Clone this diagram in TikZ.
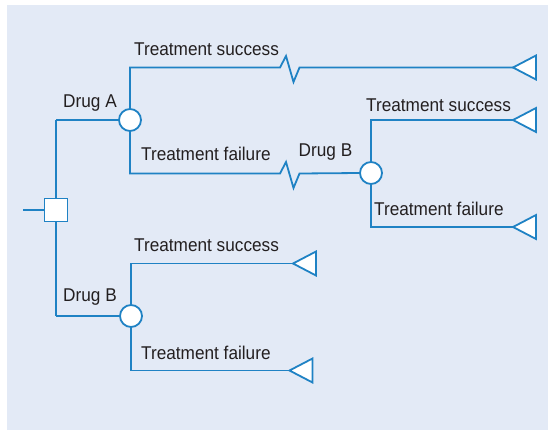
\documentclass[tikz,border=0pt]{standalone}
\usepackage{fontspec}
\setmainfont{Liberation Sans}[FakeStretch=0.93]
\definecolor{panel}{HTML}{E3EAF6}
\definecolor{tree}{HTML}{1F82C4}
\definecolor{ink}{HTML}{231F20}
\tikzset{
  branch/.style={draw=tree, line width=1.8pt},
  chance/.style={circle, draw=tree, fill=white, line width=1.8pt, minimum size=22pt, inner sep=0pt},
  decision/.style={rectangle, draw=tree, fill=white, line width=1.8pt, minimum size=23pt, inner sep=0pt},
  outcome/.style={draw=tree, fill=white, line width=1.8pt, line join=miter},
  lbl/.style={text=ink, font=\fontsize{18.5}{21}\selectfont, inner sep=0pt}
}
% draws a terminal triangle whose tip sits at the given coordinate
\newcommand{\terminal}[1]{\draw[outcome] (#1) -- ++(23,-12) -- ++(0,24) -- cycle;}
\begin{document}
\begin{tikzpicture}[x=1pt,y=-1pt]
\useasboundingbox (0,0) rectangle (548,431);
\fill[panel] (7,5) rectangle (548,430);

% decision node and its trunk
\coordinate (stub) at (23,210);
\coordinate (topA) at (56,120);
\coordinate (botB) at (56,316);
\draw[branch] (topA) -- (botB);
\draw[branch] (stub) -- (56,210);
\node[decision] (dec) at (56,210) {};

% chance nodes
\node[chance] (cA) at (130,120) {};
\node[chance] (cB2) at (371,173) {};
\node[chance] (cB) at (131,316) {};

\draw[branch] (topA) -- (cA);
\draw[branch] (botB) -- (cB);

% Drug A: success branch with a break mark
\coordinate (aS) at (130,67.5);
\coordinate (aSend) at (513,67.5);
\draw[branch] (cA.north) -- (aS) -- (280,67.5) -- (286,56) -- (293.5,82) -- (299.5,67.5) -- (aSend);
\terminal{aSend}

% Drug A: failure branch leading to Drug B
\coordinate (aF) at (130,173.5);
\draw[branch] (cA.south) -- (aF) -- (280,173.5) -- (286,162) -- (293.5,188) -- (299.5,173.5) -- (cB2.west);

% Drug B after failure
\coordinate (b2S) at (371,120);
\coordinate (b2Send) at (513,120);
\coordinate (b2F) at (371,227);
\coordinate (b2Fend) at (513,227);
\draw[branch] (cB2.north) -- (b2S) -- (b2Send);
\draw[branch] (cB2.south) -- (b2F) -- (b2Fend);
\terminal{b2Send}
\terminal{b2Fend}

% Drug B first-line
\coordinate (bS) at (131,263.5);
\coordinate (bSend) at (293,263.5);
\coordinate (bF) at (131,370.5);
\coordinate (bFend) at (289.5,370.5);
\draw[branch] (cB.north) -- (bS) -- (bSend);
\draw[branch] (cB.south) -- (bF) -- (bFend);
\terminal{bSend}
\terminal{bFend}

% labels
\node[lbl, anchor=west] (tA) at (63,103) {Drug A};
\node[lbl, anchor=west] (tAS) at (134,49) {Treatment success};
\node[lbl, anchor=west] (tAF) at (141,154) {Treatment failure};
\node[lbl, anchor=west] (tB2) at (298.5,152) {Drug B};
\node[lbl, anchor=west] (tB2S) at (366,105) {Treatment success};
\node[lbl, anchor=west] (tB2F) at (374,209) {Treatment failure};
\node[lbl, anchor=west] (tB) at (63,297) {Drug B};
\node[lbl, anchor=west] (tBS) at (134,245) {Treatment success};
\node[lbl, anchor=west] (tBF) at (141,353) {Treatment failure};
\end{tikzpicture}
\end{document}
